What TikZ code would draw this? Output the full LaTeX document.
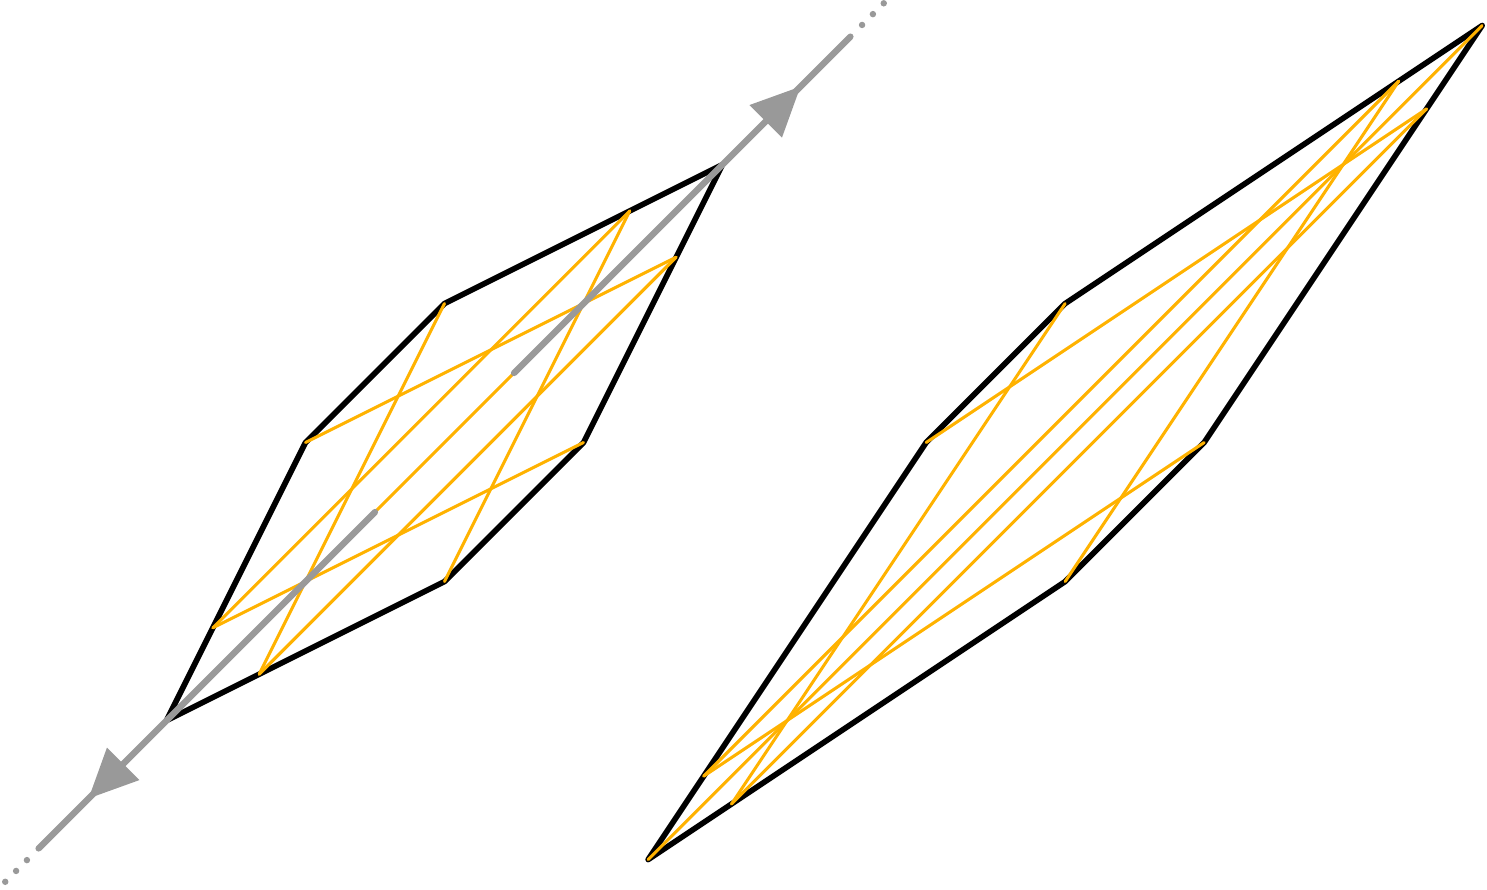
\documentclass[tikz,border=0pt]{standalone}
\usetikzlibrary{calc}
\definecolor{orng}{RGB}{255,178,0}
\definecolor{axgray}{RGB}{153,153,153}
\tikzset{
  hexline/.style={draw=black, line width=1.15pt, line join=round},
  chord/.style={draw=orng, line width=0.62pt, line cap=round},
  axisline/.style={draw=axgray, line width=1.3pt, line cap=round},
  axisdot/.style={fill=axgray},
  axistip/.style={fill=axgray, draw=none}
}
\begin{document}
\begin{tikzpicture}
\useasboundingbox (-3.1978,-3.2122) rectangle (7.5,3.1835);
% ---------- left hexagon ----------
\coordinate (A) at (2,2);
\coordinate (B) at (0,1);
\coordinate (C) at (-1,0);
\coordinate (D) at (-2,-2);
\coordinate (E) at (0,-1);
\coordinate (F) at (1,0);
\coordinate (P) at (4/3,5/3);
\coordinate (Q) at (5/3,4/3);
\coordinate (R) at (-5/3,-4/3);
\coordinate (S) at (-4/3,-5/3);
\draw[hexline] (A) -- (B) -- (C) -- (D) -- (E) -- (F) -- cycle;
\draw[chord] (P) -- (R);
\draw[chord] (A) -- (D);
\draw[chord] (Q) -- (S);
\draw[chord] (P) -- (E);
\draw[chord] (Q) -- (C);
\draw[chord] (B) -- (S);
\draw[chord] (F) -- (R);
% ---------- right hexagon ----------
\begin{scope}[shift={(4.465,0)}]
\coordinate (A2) at (3,3);
\coordinate (B2) at (0,1);
\coordinate (C2) at (-1,0);
\coordinate (D2) at (-3,-3);
\coordinate (E2) at (0,-1);
\coordinate (F2) at (1,0);
\coordinate (P2) at (2.4,2.6);
\coordinate (Q2) at (2.6,2.4);
\coordinate (R2) at (-2.6,-2.4);
\coordinate (S2) at (-2.4,-2.6);
\end{scope}
\draw[hexline] (A2) -- (B2) -- (C2) -- (D2) -- (E2) -- (F2) -- cycle;
\draw[chord] (P2) -- (R2);
\draw[chord] (A2) -- (D2);
\draw[chord] (Q2) -- (S2);
\draw[chord] (P2) -- (E2);
\draw[chord] (Q2) -- (C2);
\draw[chord] (B2) -- (S2);
\draw[chord] (F2) -- (R2);
% ---------- gray axis ----------
\coordinate (U0) at (0.5,0.5);
\coordinate (U1) at (2.92,2.92);
\coordinate (L0) at (-0.5,-0.5);
\coordinate (L1) at (-2.92,-2.92);
\draw[axisline] (U0) -- (U1);
\draw[axisline] (L0) -- (L1);
% arrowheads
\fill[axistip] (2.56,2.56) -- (2.194,2.428) -- (2.428,2.194) -- cycle;
\fill[axistip] (-2.56,-2.56) -- (-2.194,-2.428) -- (-2.428,-2.194) -- cycle;
% dots
\foreach \t in {3.004,3.082,3.16}{
  \fill[axisdot] (\t,\t) circle (0.66pt);
  \fill[axisdot] (-\t,-\t) circle (0.66pt);
}
\end{tikzpicture}
\end{document}
